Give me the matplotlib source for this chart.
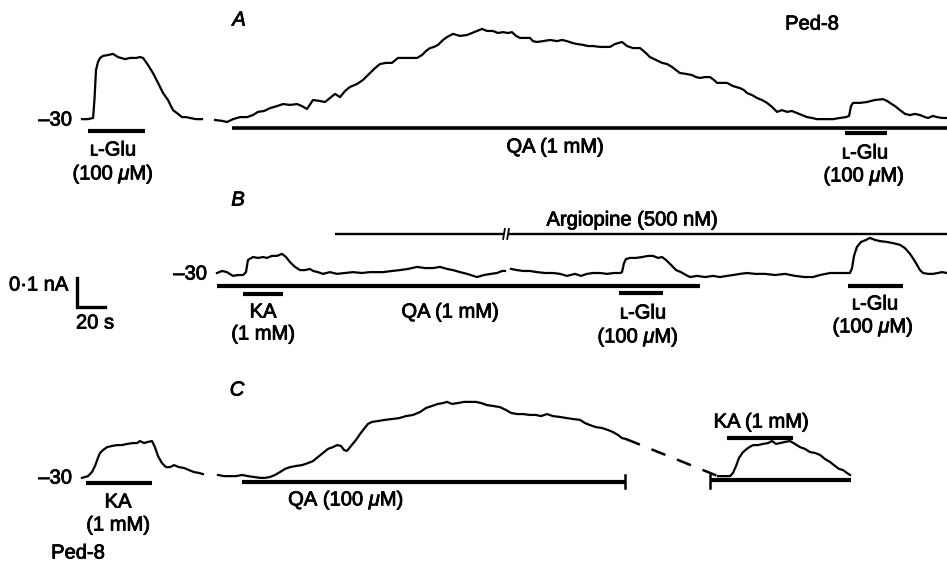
import numpy as np
import matplotlib
matplotlib.use("Agg")
import matplotlib.pyplot as plt
import matplotlib.patheffects as pe

plt.rcParams['font.family'] = ['Liberation Sans', 'DejaVu Sans']
plt.rcParams['mathtext.fontset'] = 'custom'
plt.rcParams['mathtext.rm'] = 'Liberation Sans'
plt.rcParams['mathtext.it'] = 'Liberation Sans:italic'

# calibration (20 s, 0.1 nA)
PX_PER_S = 1.4
PX_PER_NA = 290.0
W, H = 947, 562

# ---- traces: time from segment start (s), current above holding level (nA)
# A, L-Glu (100 uM) control
a1_t = [0, 4.3, 7.9, 8.9, 10.0, 11.4, 12.9, 15.0, 18.6, 22.1, 25.7, 30.7, 34.3, 38.6,
        41.4, 43.6, 47.1, 50.7, 54.3, 57.9, 61.4, 65.0, 68.6, 71.4, 74.3, 77.1, 81.4, 85.7]
a1_i = [0.003, 0.003, 0.007, 0.069, 0.172, 0.200, 0.214, 0.221, 0.224, 0.228, 0.217, 0.210,
        0.214, 0.214, 0.217, 0.214, 0.190, 0.162, 0.128, 0.093, 0.069, 0.034, 0.021, 0.010,
        0.010, 0.007, 0.003, 0.003]

# A, QA (1 mM) then L-Glu
a2_t = [0, 5.0, 8.6, 12.9, 17.9, 22.9, 27.1, 30.7, 35.0, 39.3, 44.3, 48.6, 53.6, 58.6, 62.1,
        65.7, 70.0, 74.3, 78.6, 82.1, 85.7, 89.3, 92.9, 96.4, 101.4, 105.7, 108.6, 110.7, 114.3,
        117.9, 122.1, 126.4, 130.7, 135.7, 140.0, 144.3, 147.9, 150.7, 153.6, 156.4, 159.3,
        162.9, 165.7, 170.0, 175.0, 180.0, 183.6, 187.1, 190.7, 194.3, 198.6, 202.1, 205.7,
        209.3, 212.1, 215.0, 217.9, 221.4, 225.0, 227.1, 230.0, 234.3, 239.3, 244.3, 247.9,
        251.4, 255.0, 258.6, 262.9, 266.4, 270.0, 275.0, 278.6, 282.1, 285.7, 290.7, 294.3,
        298.6, 303.6, 307.1, 310.7, 315.0, 319.3, 322.9, 326.4, 329.3, 332.1, 336.4, 340.7,
        343.6, 346.4, 350.0, 353.6, 356.4, 358.6, 362.1, 365.7, 370.0, 375.0, 377.9, 380.0,
        383.6, 387.1, 390.7, 394.3, 397.9, 401.4, 405.0, 408.6, 412.1, 415.7, 419.3, 422.9,
        426.4, 430.0, 435.7, 441.4, 446.4, 450.7, 452.9, 454.3, 455.7, 460.7, 465.7, 471.4,
        477.1, 480.0, 482.1, 485.7, 489.3, 492.9, 496.4, 500.0, 503.6, 507.1, 509.3, 512.9,
        515.7, 519.3, 522.9]
a2_i = [0.000, -0.003, -0.007, 0.003, 0.010, 0.010, 0.017, 0.028, 0.031, 0.041, 0.048, 0.055,
        0.052, 0.055, 0.048, 0.038, 0.069, 0.066, 0.062, 0.076, 0.090, 0.079, 0.100, 0.114,
        0.124, 0.138, 0.152, 0.162, 0.179, 0.193, 0.197, 0.197, 0.214, 0.214, 0.214, 0.214,
        0.224, 0.238, 0.248, 0.252, 0.259, 0.276, 0.286, 0.297, 0.290, 0.293, 0.300, 0.307,
        0.314, 0.307, 0.307, 0.300, 0.303, 0.300, 0.303, 0.290, 0.283, 0.283, 0.283, 0.272,
        0.269, 0.272, 0.276, 0.272, 0.276, 0.272, 0.266, 0.262, 0.259, 0.255, 0.255, 0.252,
        0.252, 0.252, 0.262, 0.269, 0.255, 0.248, 0.248, 0.234, 0.217, 0.207, 0.197, 0.193,
        0.183, 0.172, 0.162, 0.159, 0.155, 0.148, 0.145, 0.148, 0.148, 0.138, 0.128, 0.128,
        0.128, 0.117, 0.110, 0.103, 0.093, 0.086, 0.076, 0.069, 0.059, 0.045, 0.028, 0.034,
        0.028, 0.031, 0.024, 0.017, 0.010, 0.007, 0.003, 0.003, 0.003, 0.007, 0.010, 0.014,
        0.048, 0.059, 0.059, 0.062, 0.069, 0.072, 0.066, 0.059, 0.048, 0.034, 0.021, 0.017,
        0.021, 0.017, 0.010, 0.007, 0.014, 0.010, 0.007, 0.007]

# B, KA then QA (1 mM), before the break
b1_t = [0, 3.6, 7.1, 11.4, 15.0, 18.6, 20.7, 22.1, 25.7, 29.3, 32.9, 35.7, 39.3, 42.9, 46.4,
        49.3, 52.1, 55.7, 59.3, 62.9, 66.4, 68.6, 72.1, 75.7, 80.7, 85.7, 91.4, 97.1, 103.6,
        109.3, 118.6, 125.0, 130.7, 136.4, 142.9, 148.6, 154.3, 159.3, 164.3, 168.6, 173.6,
        178.6, 185.7, 190.7, 195.7, 200.0, 203.6, 205.7]
b1_i = [0.000, 0.007, 0.003, -0.010, -0.007, -0.007, 0.003, 0.045, 0.055, 0.052, 0.055, 0.052,
        0.059, 0.059, 0.066, 0.055, 0.038, 0.021, 0.010, 0.010, 0.014, 0.007, 0.003, -0.003,
        0.003, -0.003, 0.000, 0.003, 0.000, 0.003, 0.003, 0.007, 0.010, 0.014, 0.021, 0.017,
        0.017, 0.021, 0.014, 0.010, 0.003, -0.003, -0.014, -0.007, -0.003, 0.000, 0.007, 0.007]

# B, after the break: argiopine, L-Glu twice
b2_t = [0, 4.3, 8.6, 13.6, 18.6, 24.3, 30.0, 35.0, 40.0, 45.7, 50.0, 54.3, 58.6, 63.6, 68.6,
        73.6, 77.9, 79.3, 80.7, 82.1, 85.0, 89.3, 93.6, 97.9, 101.4, 105.0, 107.9, 110.7, 114.3,
        117.9, 121.4, 125.0, 127.9, 132.9, 138.6, 144.3, 149.3, 154.3, 158.6, 163.6, 168.6,
        174.3, 181.4, 188.6, 195.7, 202.9, 210.0, 215.7, 220.7, 227.9, 235.0, 242.1, 243.6,
        245.0, 247.1, 250.0, 253.6, 256.4, 260.0, 263.6, 268.6, 272.9, 277.9, 281.4, 285.0,
        287.9, 290.0, 292.1, 294.3, 297.9, 301.4, 305.0, 307.9, 311.4]
b2_i = [0.014, 0.010, 0.007, 0.007, 0.003, 0.000, 0.000, -0.003, -0.010, -0.003, -0.010, -0.003,
        0.000, 0.000, -0.003, 0.000, 0.000, 0.003, 0.034, 0.048, 0.052, 0.052, 0.055, 0.059,
        0.059, 0.052, 0.055, 0.045, 0.028, 0.010, 0.003, -0.007, -0.014, -0.010, -0.014, -0.010,
        -0.014, -0.010, -0.007, -0.003, 0.000, -0.003, -0.003, -0.007, -0.003, -0.010, -0.014,
        -0.014, -0.007, 0.000, 0.000, 0.000, 0.017, 0.059, 0.090, 0.107, 0.114, 0.121, 0.114,
        0.110, 0.107, 0.103, 0.097, 0.086, 0.066, 0.045, 0.028, 0.010, 0.000, -0.003, -0.003,
        0.000, 0.003, 0.000]

# C, KA (1 mM) control
c1_t = [0, 4.3, 7.1, 9.3, 11.4, 12.9, 15.0, 17.9, 21.4, 25.0, 28.6, 32.1, 36.4, 39.3, 41.4,
        44.3, 47.1, 50.0, 52.1, 54.3, 57.1, 60.0, 62.9, 65.7, 69.3, 72.9, 76.4, 80.0, 83.6, 86.4]
c1_i = [-0.003, 0.003, 0.017, 0.038, 0.066, 0.083, 0.093, 0.103, 0.107, 0.110, 0.110, 0.114,
        0.117, 0.117, 0.124, 0.117, 0.121, 0.124, 0.103, 0.072, 0.048, 0.034, 0.034, 0.041,
        0.034, 0.031, 0.024, 0.017, 0.014, 0.010]

# C, QA (100 uM)
c2_t = [0, 4.3, 8.6, 12.9, 17.1, 21.4, 25.7, 30.0, 33.6, 37.1, 40.7, 44.3, 47.9, 51.4, 55.7,
        60.0, 64.3, 67.9, 71.4, 75.0, 78.6, 82.1, 85.0, 87.9, 90.0, 92.1, 95.0, 98.6, 101.4,
        104.3, 107.1, 110.0, 114.3, 119.3, 124.3, 129.3, 134.3, 139.3, 144.3, 148.6, 152.9,
        157.1, 160.7, 163.6, 167.1, 171.4, 175.7, 180.0, 184.3, 187.9, 192.1, 196.4, 201.4,
        205.7, 209.3, 213.6, 217.9, 222.9, 227.1, 230.7, 235.0, 239.3, 244.3, 249.3, 253.6,
        258.6, 262.1, 265.7, 270.0, 274.3, 278.6, 282.1, 285.7, 288.6, 291.4]
c2_i = [0.007, 0.003, 0.003, 0.003, 0.007, 0.003, 0.000, -0.003, -0.003, 0.000, 0.007, 0.017,
        0.028, 0.034, 0.038, 0.041, 0.048, 0.055, 0.069, 0.083, 0.097, 0.103, 0.110, 0.107,
        0.093, 0.090, 0.107, 0.128, 0.148, 0.166, 0.183, 0.190, 0.193, 0.197, 0.200, 0.203,
        0.210, 0.214, 0.224, 0.238, 0.245, 0.252, 0.255, 0.259, 0.252, 0.255, 0.259, 0.259,
        0.259, 0.255, 0.248, 0.245, 0.241, 0.231, 0.221, 0.217, 0.217, 0.214, 0.214, 0.210,
        0.217, 0.210, 0.207, 0.203, 0.200, 0.197, 0.186, 0.179, 0.172, 0.169, 0.162, 0.155,
        0.145, 0.134, 0.131]

# C, KA (1 mM) in presence of QA
c3_t = [0, 4.3, 8.6, 10.7, 12.9, 15.0, 17.9, 21.4, 25.0, 28.6, 32.1, 35.7, 38.6, 41.4, 44.3,
        47.9, 51.4, 55.0, 58.6, 62.1, 65.7, 69.3, 72.9, 76.4, 80.0, 83.6, 86.4, 89.3, 92.1, 94.3]
c3_i = [0.003, 0.003, 0.003, 0.014, 0.038, 0.066, 0.086, 0.100, 0.110, 0.110, 0.114, 0.117,
        0.124, 0.114, 0.117, 0.121, 0.124, 0.114, 0.103, 0.097, 0.086, 0.083, 0.076, 0.062,
        0.052, 0.038, 0.028, 0.024, 0.014, 0.007]

# drug application periods (s on the panel time axis)
a_bars = [(62.9, 103.6), (165.7, 676.4), (603.6, 633.6)]
b_bars = [(155.0, 500.0), (173.6, 202.1), (442.1, 473.6), (605.7, 645.0)]
argiopine = [(239.3, 360.0), (362.9, 676.4)]
c_bars = [(61.4, 108.6), (172.9, 446.4), (507.1, 607.9), (519.3, 566.4)]


def y_of(ypix):
    return (H - ypix) / PX_PER_NA


def x_of(xpix):
    return xpix / PX_PER_S


fig = plt.figure(figsize=(W / 100, H / 100), dpi=100)
ax = fig.add_axes([0, 0, 1, 1])
ax.set_xlim(0, W / PX_PER_S)
ax.set_ylim(0, H / PX_PER_NA)
ax.axis('off')

base_a, base_b, base_c = y_of(120), y_of(273), y_of(477)
TRACE = dict(color='black', lw=1.6, solid_joinstyle='round')

for t0, t, i, base in [(x_of(82), a1_t, a1_i, base_a), (x_of(215), a2_t, a2_i, base_a),
                       (x_of(217), b1_t, b1_i, base_b), (x_of(511), b2_t, b2_i, base_b),
                       (x_of(82), c1_t, c1_i, base_c), (x_of(218), c2_t, c2_i, base_c),
                       (x_of(718), c3_t, c3_i, base_c)]:
    ax.plot(t0 + np.array(t), base + np.array(i), **TRACE)

# dashed link across the omitted part of C
ax.plot([x_of(218) + c2_t[-1], x_of(718) + c3_t[0]],
        [base_c + c2_i[-1], base_c + c3_i[0]],
        color='black', lw=1.8, dashes=(6, 5))


def bar(span, ypix, lw=3.0):
    ax.plot(span, [y_of(ypix)] * 2, color='black', lw=lw, solid_capstyle='butt')


bar(a_bars[0], 131)
bar(a_bars[1], 128, lw=2.6)
bar(a_bars[2], 133)
bar(b_bars[0], 286)
bar(b_bars[1], 294)
bar(b_bars[2], 293)
bar(b_bars[3], 286)
for seg in argiopine:
    bar(seg, 234, lw=1.7)
bar(c_bars[0], 483)
bar(c_bars[1], 482)
bar(c_bars[2], 480)
bar(c_bars[3], 438)

# break marks on the argiopine line and end ticks of the QA bar in C
for xb in (argiopine[0][1], argiopine[1][0]):
    ax.plot([xb - 0.6, xb + 0.6], [y_of(239), y_of(229)], color='black', lw=1.3)
for xb in (c_bars[1][1], c_bars[2][0]):
    ax.plot([xb, xb], [y_of(475), y_of(488)], color='black', lw=1.8)

# calibration bar
sx, sy = x_of(77), y_of(307)
ax.plot([sx, sx, sx + 20], [sy + 0.1, sy, sy], color='black', lw=2.4,
        solid_joinstyle='miter')

FS = 14.5
INK = [pe.withStroke(linewidth=0.6, foreground='black')]


def label(xpix, ypix, s, ha='center', **kw):
    ax.text(x_of(xpix), y_of(ypix), s, ha=ha, va='center', fontsize=FS,
            path_effects=INK, **kw)


MU = r'$\mu$'
label(239, 20, 'A', style='italic')
label(238, 200, 'B', style='italic')
label(237, 390, 'C', style='italic')
label(812, 24, 'Ped-8')
label(78, 553, 'Ped-8')

label(72, 120, '\u201330', ha='right')
label(207, 274, '\u201330', ha='right')
label(72, 478, '\u201330', ha='right')

label(113, 150, '\u029f-Glu')
label(113, 174, '(100 ' + MU + 'M)')
label(555, 147, 'QA (1 mM)')
label(865, 153, '\u029f-Glu')
label(864, 176, '(100 ' + MU + 'M)')

label(632, 220, 'Argiopine (500 nM)')
label(263, 312, 'KA')
label(263, 334, '(1 mM)')
label(450, 312, 'QA (1 mM)')
label(643, 313, '\u029f-Glu')
label(638, 337, '(100 ' + MU + 'M)')
label(875, 304, '\u029f-Glu')
label(873, 327, '(100 ' + MU + 'M)')

label(68, 285, '0\u00b71 nA', ha='right')
label(95, 323, '20 s')

label(118, 502, 'KA')
label(118, 525, '(1 mM)')
label(346, 500, 'QA (100 ' + MU + 'M)')
label(761, 422, 'KA (1 mM)')

fig.savefig('out.png', dpi=100)
